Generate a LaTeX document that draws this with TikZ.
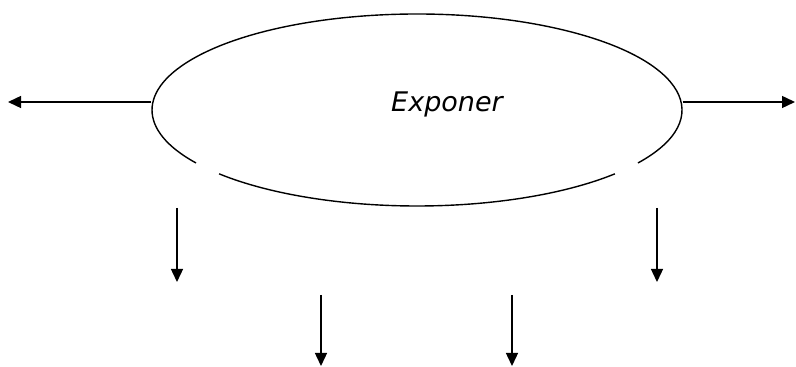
\documentclass[tikz,border=0pt]{standalone}
\usepackage{fontspec}
\newfontfamily\labelfont{DejaVu Sans}
\usetikzlibrary{shapes.geometric, arrows.meta, positioning}

\begin{document}
\begin{tikzpicture}[x=1pt, y=1pt, line width=1.4pt, >={Triangle[length=13pt,width=12pt]}]
    \useasboundingbox (0,0) rectangle (796,367);
    \node[ellipse, minimum width=530pt, minimum height=192pt, inner sep=0pt] (exp) at (417,257) {};
    \node[inner sep=0pt] (name) at ([xshift=30pt,yshift=6pt]exp.center) {\labelfont\itshape\fontsize{27}{32}\selectfont Exponer};
    \coordinate (lend) at (8,265);
    \coordinate (rend) at (795,265);
    \coordinate (d1a) at (177,159);
    \coordinate (d1b) at (177,85);
    \coordinate (d2a) at (657,159);
    \coordinate (d2b) at (657,85);
    \coordinate (d3a) at (321,72);
    \coordinate (d3b) at (321,1);
    \coordinate (d4a) at (512,72);
    \coordinate (d4b) at (512,1);

    % ellipse outline, open at the two lower gaps
    \draw (exp.center) ++(326.5:265 and 96) arc[start angle=326.5, end angle=573.5, x radius=265, y radius=96];
    \draw (exp.center) ++(221.7:265 and 96) arc[start angle=221.7, end angle=318.3, x radius=265, y radius=96];

    % outputs
    \path[->]
    (exp.west |- lend) edge (lend)
    (exp.east |- rend) edge (rend)
    (d1a) edge (d1b)
    (d2a) edge (d2b)
    (d3a) edge (d3b)
    (d4a) edge (d4b);
\end{tikzpicture}
\end{document}
